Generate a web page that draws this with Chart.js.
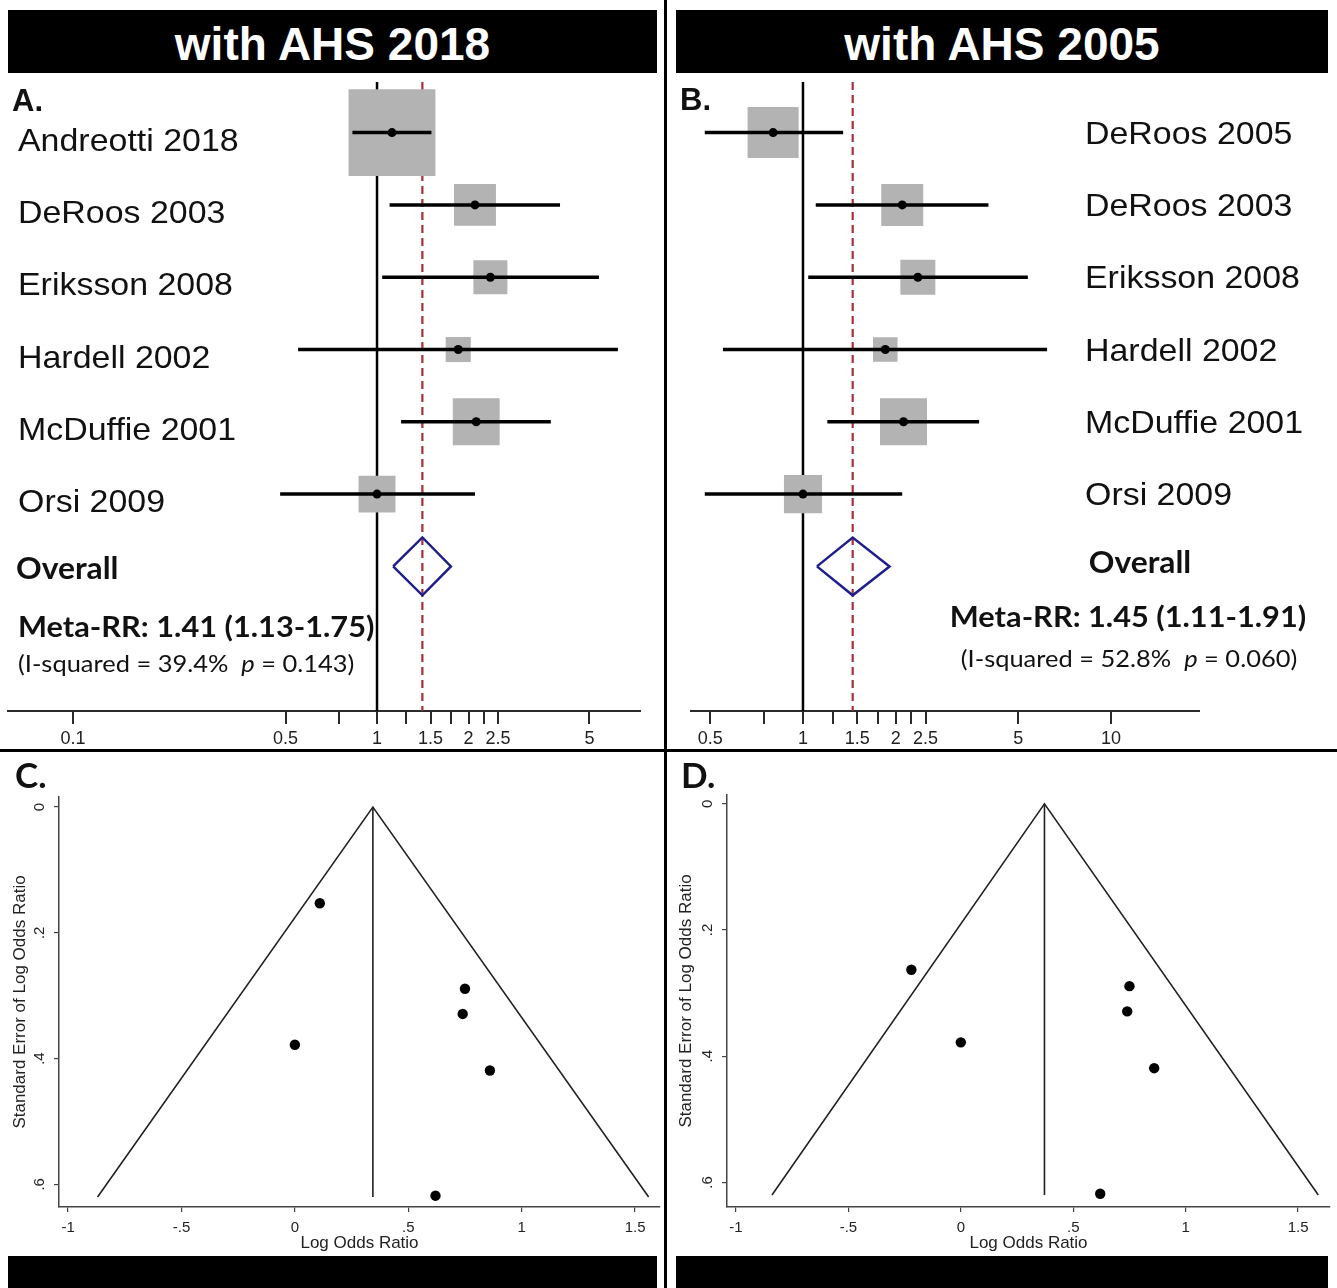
<!DOCTYPE html>
<html><head><meta charset="utf-8">
<script src="https://cdn.jsdelivr.net/npm/chart.js@4.4.1/dist/chart.umd.min.js"></script>
<style>
html,body{margin:0;padding:0;background:#fff;}
#wrap{position:relative;width:1337px;height:1288px;overflow:hidden;background:#fff;}
.hdr{position:absolute;background:#000;color:#fff;font-family:"Liberation Sans",Arial,sans-serif;font-weight:bold;font-size:46px;text-align:center;line-height:68px;height:63px;overflow:hidden;white-space:nowrap;}
.rule{position:absolute;background:#000;}
canvas{position:absolute;}
</style></head><body>
<div id="wrap">
  <div class="hdr" style="left:8px;top:10px;width:649px;">with AHS 2018</div>
  <div class="hdr" style="left:676px;top:10px;width:652px;">with AHS 2005</div>
  <canvas id="fa" width="662" height="673" style="left:0;top:75px;"></canvas>
  <canvas id="fb" width="669" height="673" style="left:668px;top:75px;"></canvas>
  <canvas id="fc" width="662" height="500" style="left:0;top:755px;"></canvas>
  <canvas id="fd" width="669" height="500" style="left:668px;top:755px;"></canvas>
  <div class="rule" style="left:664px;top:0;width:3px;height:1288px;"></div>
  <div class="rule" style="left:0;top:749px;width:1337px;height:3px;"></div>
  <div class="rule" style="left:8px;top:1256px;width:649px;height:32px;"></div>
  <div class="rule" style="left:676px;top:1256px;width:652px;height:32px;"></div>
</div>
<script>
// ---------------- data ----------------
const studiesA = ['Andreotti 2018','DeRoos 2003','Eriksson 2008','Hardell 2002','McDuffie 2001','Orsi 2009'];
const rrA      = [1.12, 2.1, 2.36, 1.85, 2.12, 1.0];
const loA      = [0.83, 1.1, 1.04, 0.55, 1.2, 0.48];
const hiA      = [1.51, 4.0, 5.37, 6.2, 3.73, 2.1];
const weightA  = [51.5, 12.0, 7.9, 4.3, 15.0, 9.3];
const metaA    = [1.41, 1.13, 1.75];
const hetA     = ['39.4%', '0.143'];

const studiesB = ['DeRoos 2005','DeRoos 2003','Eriksson 2008','Hardell 2002','McDuffie 2001','Orsi 2009'];
const rrB      = [0.8, 2.1, 2.36, 1.85, 2.12, 1.0];
const loB      = [0.48, 1.1, 1.04, 0.55, 1.2, 0.48];
const hiB      = [1.35, 4.0, 5.37, 6.2, 3.73, 2.1];
const weightB  = [26.4, 17.9, 12.4, 6.1, 22.4, 14.7];
const metaB    = [1.45, 1.11, 1.91];
const hetB     = ['52.8%', '0.060'];

const tickValsA   = [0.1, 0.5, 0.75, 1, 1.25, 1.5, 1.75, 2, 2.25, 2.5, 5];
const tickLabelsA = ['0.1','0.5','','1','','1.5','','2','','2.5','5'];
const tickValsB   = [0.5, 0.75, 1, 1.25, 1.5, 1.75, 2, 2.25, 2.5, 5, 10];
const tickLabelsB = ['0.5','','1','','1.5','','2','','2.5','5','10'];

const logOrC = [0.11, 0.74, 0.86, 0.62, 0.75, 0.0];
const seC    = [0.153, 0.329, 0.419, 0.618, 0.289, 0.378];
const logOrD = [-0.22, 0.74, 0.86, 0.62, 0.75, 0.0];
const seD    = [0.263, 0.329, 0.419, 0.618, 0.289, 0.378];
const funnelC = [0.344, -0.87, 1.56, 0.62];   // pooled, lower limit, upper limit, max SE
const funnelD = [0.372, -0.84, 1.59, 0.62];
const funnelXTicks  = [-1, -0.5, 0, 0.5, 1, 1.5];
const funnelXLabels = ['-1', '-.5', '0', '.5', '1', '1.5'];
const funnelYTicks  = [0, 0.2, 0.4, 0.6];
const funnelYLabels = ['0', '.2', '.4', '.6'];

// ---------------- helpers ----------------
const F_SANS = '"Liberation Sans", Arial, sans-serif';
const F_CAL  = 'Lato, "Open Sans", sans-serif';
Chart.defaults.font.family = F_SANS;
Chart.defaults.color = '#1a1a1a';

function drawSegs(ctx, segs, x, y, sx, align) {
  ctx.save();
  ctx.textBaseline = 'alphabetic';
  ctx.textAlign = 'left';
  ctx.fillStyle = '#111';
  let total = 0;
  segs.forEach(s => { ctx.font = s[1]; total += ctx.measureText(s[0]).width * sx; });
  let cx = align === 'center' ? x - total / 2 : x;
  segs.forEach(s => {
    ctx.font = s[1];
    const w = ctx.measureText(s[0]).width;
    ctx.save(); ctx.translate(cx, y); ctx.scale(sx, 1); ctx.fillText(s[0], 0, 0); ctx.restore();
    cx += w * sx;
  });
  ctx.restore();
}

function forest(id, cfg) {
  const rows = cfg.studies.map((_, i) => i + 1);
  const ovRow = cfg.studies.length + 1;
  const pts = cfg.rr.map((v, i) => ({x: v, y: rows[i]}));
  const ds = [];
  ds.push({data: pts, pointRadius: 4.5, pointBackgroundColor: '#000', pointBorderWidth: 0, order: 0});
  cfg.lo.forEach((lo, i) => ds.push({showLine: true, data: [{x: lo, y: rows[i]}, {x: cfg.hi[i], y: rows[i]}],
    borderColor: '#000', borderWidth: 3.5, pointRadius: 0, order: 1}));
  const [m, ml, mh] = cfg.meta;
  ds.push({showLine: true, data: [{x: ml, y: ovRow}, {x: m, y: ovRow - 0.4}, {x: mh, y: ovRow}, {x: m, y: ovRow + 0.4}, {x: ml, y: ovRow}],
    borderColor: '#1f1f8c', borderWidth: 2.5, pointRadius: 0, order: 1});
  ds.push({data: pts, pointStyle: 'rect', pointRadius: cfg.weights.map(w => cfg.boxScale * Math.sqrt(w) / (2 * Math.SQRT1_2)),
    pointBackgroundColor: '#b3b3b3', pointBorderWidth: 0, order: 2});
  ds.push({showLine: true, data: [{x: 1, y: cfg.yMin}, {x: 1, y: cfg.yMax}], borderColor: '#000', borderWidth: 2.5, pointRadius: 0, order: 3});
  ds.push({showLine: true, data: [{x: m, y: cfg.yMin}, {x: m, y: cfg.yMax}], borderColor: '#a5303c', borderWidth: 2.2,
    borderDash: [8, 5], pointRadius: 0, order: 3});

  const txt = {
    id: 'txt' + id,
    afterDatasetsDraw(chart) {
      const ctx = chart.ctx, ys = chart.scales.y, o = cfg.origin;
      drawSegs(ctx, [[cfg.panel, 'bold 31px ' + F_SANS]], cfg.panelPos[0] - o[0], cfg.panelPos[1] - o[1], 1, 'left');
      cfg.studies.forEach((s, i) => {
        drawSegs(ctx, [[s, '32px ' + F_SANS]], cfg.labelX - o[0], ys.getPixelForValue(rows[i]) + cfg.labelDy, 1.06, 'left');
      });
      const ovY = ys.getPixelForValue(ovRow);
      drawSegs(ctx, [['Overall', 'bold 30px ' + F_CAL]], cfg.ovX - o[0], ovY + cfg.ovDy, 1.06, cfg.align);
      const metaTxt = 'Meta-RR: ' + m.toFixed(2) + ' (' + ml.toFixed(2) + '-' + mh.toFixed(2) + ')';
      drawSegs(ctx, [[metaTxt, 'bold 29px ' + F_CAL]], cfg.metaX - o[0], ovY + cfg.metaDy, 1.06, cfg.align);
      drawSegs(ctx, [['(I-squared = ' + cfg.het[0] + '  ', '24px ' + F_CAL], ['p', 'italic 24px ' + F_CAL],
        [' = ' + cfg.het[1] + ')', '24px ' + F_CAL]], cfg.hetX - o[0], ovY + cfg.hetDy, 1.06, cfg.align);
    }
  };

  return new Chart(document.getElementById(id), {
    type: 'scatter',
    data: {datasets: ds},
    plugins: [txt],
    options: {
      responsive: false, animation: false,
      layout: {padding: cfg.padding, autoPadding: false},
      plugins: {legend: {display: false}, tooltip: {enabled: false}},
      scales: {
        x: {
          type: 'logarithmic', min: cfg.xMin, max: cfg.xMax, position: 'bottom',
          afterBuildTicks: s => { s.ticks = cfg.tickVals.map(v => ({value: v})); },
          afterFit: s => { s.height = 37; },
          ticks: {autoSkip: false, minRotation: 0, maxRotation: 0, padding: 4, color: '#222',
            font: {family: F_SANS, size: 18}, callback: (v, i) => cfg.tickLabels[i]},
          grid: {drawOnChartArea: false, drawTicks: true, tickLength: 13, color: '#2a2a2a', lineWidth: 2},
          border: {display: true, color: '#2a2a2a', width: 2}
        },
        y: {type: 'linear', min: cfg.yMin, max: cfg.yMax, reverse: true, display: false}
      }
    }
  });
}

forest('fa', {
  studies: studiesA, rr: rrA, lo: loA, hi: hiA, weights: weightA, meta: metaA, het: hetA, boxScale: 12.1,
  tickVals: tickValsA, tickLabels: tickLabelsA, xMin: 0.0611, xMax: 7.33, yMin: 0.3, yMax: 9.0,
  padding: {left: 8, right: 22, top: 7, bottom: 0}, origin: [0, 75],
  panel: 'A.', panelPos: [12, 111], labelX: 18, labelDy: 18, align: 'left',
  ovX: 16, ovDy: 13, metaX: 18, metaDy: 71, hetX: 18, hetDy: 106
});
forest('fb', {
  studies: studiesB, rr: rrB, lo: loB, hi: hiB, weights: weightB, meta: metaB, het: hetB, boxScale: 9.93,
  tickVals: tickValsB, tickLabels: tickLabelsB, xMin: 0.433, xMax: 19.3, yMin: 0.3, yMax: 9.0,
  padding: {left: 23, right: 138, top: 7, bottom: 0}, origin: [668, 75],
  panel: 'B.', panelPos: [680, 110], labelX: 1085, labelDy: 11, align: 'center',
  ovX: 1140, ovDy: 7, metaX: 1128, metaDy: 61, hetX: 1129, hetDy: 101
});

function funnel(id, cfg) {
  const [pooled, lim0, lim1, seMax] = cfg.funnel;
  const ds = [
    {data: cfg.x.map((v, i) => ({x: v, y: cfg.se[i]})), pointRadius: 5.2, pointBackgroundColor: '#000', pointBorderWidth: 0, order: 0},
    {showLine: true, data: [{x: lim0, y: seMax}, {x: pooled, y: 0}, {x: lim1, y: seMax}], borderColor: '#222', borderWidth: 1.6, pointRadius: 0, order: 1},
    {showLine: true, data: [{x: pooled, y: 0}, {x: pooled, y: seMax}], borderColor: '#222', borderWidth: 1.6, pointRadius: 0, order: 1}
  ];
  const txt = {
    id: 'txt' + id,
    afterDatasetsDraw(chart) {
      drawSegs(chart.ctx, [[cfg.panel, 'bold 35px ' + F_CAL]], cfg.panelPos[0] - cfg.origin[0], cfg.panelPos[1] - cfg.origin[1], 1, 'left');
    }
  };
  return new Chart(document.getElementById(id), {
    type: 'scatter',
    data: {datasets: ds},
    plugins: [txt],
    options: {
      responsive: false, animation: false,
      layout: {padding: cfg.padding, autoPadding: false},
      plugins: {legend: {display: false}, tooltip: {enabled: false}},
      scales: {
        x: {
          type: 'linear', min: cfg.xMin, max: cfg.xMax, position: 'bottom',
          afterBuildTicks: s => { s.ticks = funnelXTicks.map(v => ({value: v})); },
          afterFit: s => { s.height = 48; },
          ticks: {autoSkip: false, minRotation: 0, maxRotation: 0, padding: 7, color: '#222',
            font: {family: F_SANS, size: 15}, callback: (v, i) => funnelXLabels[i]},
          grid: {drawOnChartArea: false, tickLength: 5, color: '#444', lineWidth: 1.2},
          border: {display: true, color: '#444', width: 1.5},
          title: {display: true, text: 'Log Odds Ratio', color: '#222', font: {family: F_SANS, size: 17}, padding: {top: 0, bottom: 1}}
        },
        y: {
          type: 'linear', min: cfg.yMin, max: cfg.yMax, reverse: true, position: 'left',
          afterBuildTicks: s => { s.ticks = funnelYTicks.map(v => ({value: v})); },
          afterFit: s => { s.width = 59; },
          ticks: {autoSkip: false, minRotation: 90, maxRotation: 90, crossAlign: 'center', padding: 8, color: '#222',
            font: {family: F_SANS, size: 15}, callback: (v, i) => funnelYLabels[i]},
          grid: {drawOnChartArea: false, tickLength: 5, color: '#444', lineWidth: 1.2},
          border: {display: true, color: '#444', width: 1.5},
          title: {display: true, text: 'Standard Error of Log Odds Ratio', color: '#222', font: {family: F_SANS, size: 17}, padding: {top: cfg.titlePad, bottom: 0}}
        }
      }
    }
  });
}

funnel('fc', {x: logOrC, se: seC, funnel: funnelC, xMin: -1.04, xMax: 1.61, yMin: -0.016, yMax: 0.636,
  padding: {left: 0, right: 2, top: 42, bottom: 0}, origin: [0, 755], panel: 'C.', panelPos: [15, 788], titlePad: 10});
funnel('fd', {x: logOrD, se: seD, funnel: funnelD, xMin: -1.04, xMax: 1.642, yMin: -0.014, yMax: 0.639,
  padding: {left: 0, right: 7, top: 40, bottom: 0}, origin: [668, 755], panel: 'D.', panelPos: [681, 788], titlePad: 8});
</script>
</body></html>
